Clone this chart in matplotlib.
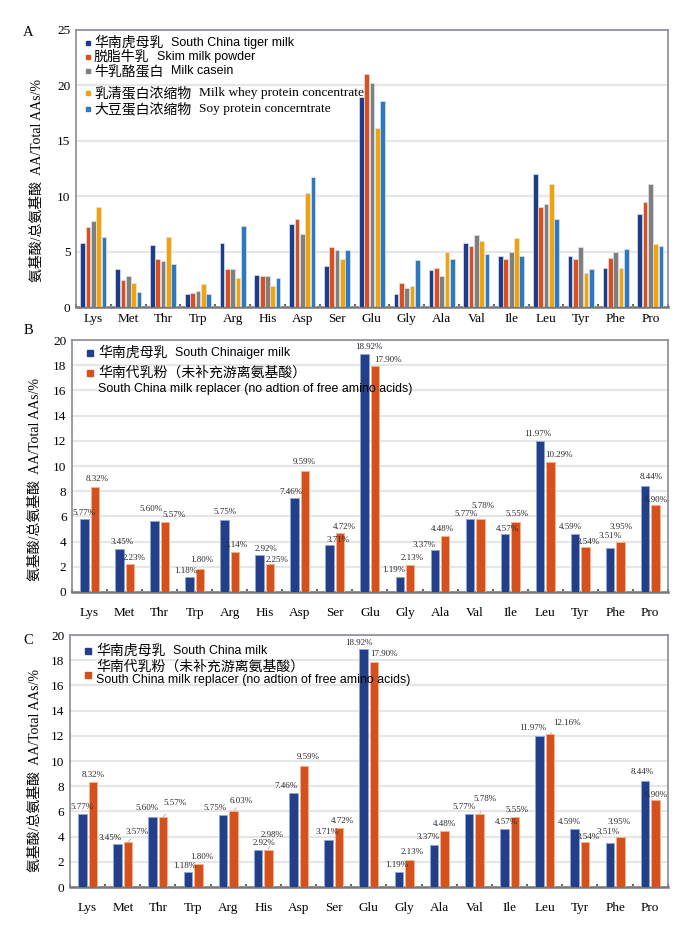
import matplotlib
matplotlib.use("Agg")
import matplotlib.pyplot as plt
import numpy as np

plt.rcParams['font.family'] = ['Liberation Serif', 'Noto Sans CJK SC', 'DejaVu Sans']

amino = ['Lys', 'Met', 'Thr', 'Trp', 'Arg', 'His', 'Asp', 'Ser', 'Glu', 'Gly',
         'Ala', 'Val', 'Ile', 'Leu', 'Tyr', 'Phe', 'Pro']

# Panel A
a_tiger = [5.77, 3.45, 5.60, 1.18, 5.75, 2.92, 7.46, 3.71, 18.92, 1.19, 3.37, 5.77, 4.57, 11.97, 4.59, 3.51, 8.44]
a_skim = [7.22, 2.45, 4.30, 1.28, 3.48, 2.80, 7.95, 5.38, 21.0, 2.21, 3.53, 5.47, 4.32, 9.0, 4.38, 4.47, 9.49]
a_casein = [7.73, 2.80, 4.20, 1.43, 3.48, 2.82, 6.62, 5.11, 20.24, 1.75, 2.84, 6.47, 4.98, 9.27, 5.44, 4.98, 11.06]
a_whey = [9.04, 2.17, 6.34, 2.08, 2.65, 1.92, 10.30, 4.32, 16.17, 1.87, 4.98, 5.98, 6.19, 11.15, 3.05, 3.56, 5.65]
a_soy = [6.32, 1.32, 3.87, 1.20, 7.32, 2.62, 11.75, 5.14, 18.58, 4.23, 4.35, 4.80, 4.59, 7.98, 3.47, 5.23, 5.53]
a_names_cn = ['华南虎母乳', '脱脂牛乳', '牛乳酪蛋白', '乳清蛋白浓缩物', '大豆蛋白浓缩物']
a_names_en = ['South China tiger milk', 'Skim milk powder', 'Milk casein',
              'Milk whey protein concentrate', 'Soy protein concerntrate']
a_colors = ['#1F3C88', '#D9501E', '#7F7F7F', '#F0A30A', '#2E78C0']

# Panels B and C
tiger = [5.77, 3.45, 5.60, 1.18, 5.75, 2.92, 7.46, 3.71, 18.92, 1.19, 3.37, 5.77, 4.57, 11.97, 4.59, 3.51, 8.44]
b_replacer = [8.32, 2.23, 5.57, 1.80, 3.14, 2.25, 9.59, 4.72, 17.90, 2.13, 4.48, 5.78, 5.55, 10.29, 3.54, 3.95, 6.90]
c_replacer = [8.32, 3.57, 5.57, 1.80, 6.03, 2.98, 9.59, 4.72, 17.90, 2.13, 4.48, 5.78, 5.55, 12.16, 3.54, 3.95, 6.90]
b_tiger_cn, b_tiger_en = '华南虎母乳', 'South Chinaiger milk'
c_tiger_cn, c_tiger_en = '华南虎母乳', 'South China milk'
rep_cn = '华南代乳粉（未补充游离氨基酸）'
rep_en = 'South China milk replacer (no adtion of free amino acids)'
bc_colors = ['#233F8A', '#D5501C']
bc_edges = ['#8FA8D8', '#F2B48A']

# label offsets (pixels: dx, dy above bar top) -- placement only
b_tig_off = [(0, 6), (3, 7), (-3, 12), (-4, 6), (0, 8), (6, 6), (-4, 6), (8, 5), (4, 7),
             (-6, 7), (-11, 5), (-4, 5), (3, 5), (-2, 7), (-5, 7), (0, 12), (6, 9)]
b_rep_off = [(2, 8), (4, 6), (9, 7), (2, 9), (1, 7), (7, 4), (-1, 9), (4, 6), (13, 6),
             (2, 7), (-3, 7), (3, 13), (2, 8), (8, 7), (3, 5), (1, 15), (1, 5)]
c_tig_off = [(0, 7), (-7, 6), (-6, 9), (-3, 6), (-8, 7), (6, 7), (-7, 7), (-1, 8), (-5, 6),
             (-2, 7), (-6, 8), (-5, 7), (2, 7), (-7, 8), (-5, 7), (-2, 11), (-3, 9)]
c_rep_off = [(0, 7), (9, 10), (12, 14), (3, 7), (8, 10), (3, 15), (4, 9), (3, 7), (10, 8),
             (3, 8), (0, 7), (5, 15), (2, 7), (17, 11), (3, 5), (-1, 15), (1, 5)]

ylabel = '氨基酸/总氨基酸  AA/Total AAs/%'
sans = ['Liberation Sans', 'Noto Sans CJK SC']
serif = ['Liberation Serif', 'Noto Sans CJK SC']
PX = 0.72  # points per pixel at dpi 100

fig = plt.figure(figsize=(7, 9.25), dpi=100)

def style_axes(ax, ymax, step, pad):
    ax.set_xlim(-0.5, len(amino) - 0.5)
    ax.set_ylim(0, ymax)
    ax.set_yticks(np.arange(0, ymax + 0.01, step))
    ax.yaxis.grid(True, color='#E6E6E6', linewidth=1.5)
    ax.set_axisbelow(True)
    ax.set_xticks(np.arange(len(amino)))
    ax.set_xticklabels(amino)
    ax.tick_params(axis='x', length=0, pad=pad, labelsize=9.5)
    ax.tick_params(axis='y', length=0, pad=4, labelsize=9.5)
    ax.set_xticks(np.arange(len(amino) + 1) - 0.5, minor=True)
    ax.tick_params(axis='x', which='minor', direction='in', length=2, width=1.5, color='#666666')
    for s in ['top', 'right', 'left']:
        ax.spines[s].set_color('#8A8A96')
        ax.spines[s].set_linewidth(1.2)
    ax.spines['bottom'].set_color('#777777')
    ax.spines['bottom'].set_linewidth(1.8)

def legend_entry(ax, xm, xt, y, ym, color, cn, en, en_family, en_size, msize, gap=5.5):
    ax.plot([xm], [ym], marker='s', markersize=msize, color=color, linestyle='none',
            transform=ax.transAxes, clip_on=False, zorder=5)
    t = ax.text(xt, y, cn, transform=ax.transAxes, va='center', ha='left',
                fontsize=10, family=['Noto Sans CJK SC'], zorder=5)
    if en:
        ax.annotate(en, xy=(1, 0.5), xycoords=t, xytext=(gap, 0), textcoords='offset points',
                    va='center', ha='left', fontsize=en_size, family=en_family, zorder=5)
    return t

x = np.arange(len(amino))

# ---------- Panel A ----------
axA = fig.add_axes([0.1086, 0.668, 0.8454, 0.2996])
seriesA = [a_tiger, a_skim, a_casein, a_whey, a_soy]
pitch = 0.153
for i, (vals, col) in enumerate(zip(seriesA, a_colors)):
    axA.bar(x + (i - 2) * pitch, vals, width=0.135, color=col,
            edgecolor='#DDE6F0', linewidth=0.5, zorder=3)
style_axes(axA, 25, 5, 4)
a_rows = [0.953, 0.9025, 0.852, 0.773, 0.715]
for i in range(5):
    fam = sans if i < 3 else serif
    size = 9 if i < 3 else 9.6
    legend_entry(axA, 0.0203, 0.0304, a_rows[i], a_rows[i], a_colors[i],
                 a_names_cn[i], a_names_en[i], fam, size, 3.0)
fig.text(0.054, 0.805, ylabel, rotation=90, ha='center', va='center', fontsize=10)
fig.text(0.04, 0.965, 'A', fontsize=10.5, ha='center', va='center')

# ---------- Panels B and C ----------
def two_series(rect, reps, tig_off, rep_off, tig_cn, tig_en, rows, rep_marker_y,
               letter, ly, lety, leaders):
    ax = fig.add_axes(rect)
    off = 0.15
    ax.bar(x - off, tiger, width=0.24, color=bc_colors[0], edgecolor=bc_edges[0],
           linewidth=0.7, zorder=3)
    ax.bar(x + off, reps, width=0.24, color=bc_colors[1], edgecolor=bc_edges[1],
           linewidth=0.7, zorder=3)
    for xi, v, (dx, dy) in zip(x, tiger, tig_off):
        ax.annotate(f'{v:.2f}%', (xi - off, v), xytext=(dx * PX, dy * PX),
                    textcoords='offset points', ha='center', va='center',
                    fontsize=6.5, color='#2A2A2A', zorder=4)
    for k, (xi, v, (dx, dy)) in enumerate(zip(x, reps, rep_off)):
        kw = {}
        if leaders and k in leaders:
            kw['arrowprops'] = dict(arrowstyle='-', color='#B8B8B8', lw=0.7,
                                    shrinkA=4, shrinkB=0)
        ax.annotate(f'{v:.2f}%', (xi + off, v), xytext=(dx * PX, dy * PX),
                    textcoords='offset points', ha='center', va='center',
                    fontsize=6.5, color='#2A2A2A', zorder=4, **kw)
    style_axes(ax, 20, 2, 11)
    xm, xt = 0.030, 0.0436
    legend_entry(ax, xm, xt, rows[0], rows[0], bc_colors[0], tig_cn, tig_en, sans, 8.9, 3.8)
    legend_entry(ax, xm, xt, rows[1], rep_marker_y, bc_colors[1], rep_cn, None, sans, 8.9, 3.8)
    ax.text(xt, rows[2], rep_en, transform=ax.transAxes, va='center', ha='left',
            fontsize=8.9, family=sans, zorder=5)
    fig.text(0.05, ly, ylabel, rotation=90, ha='center', va='center', fontsize=10)
    fig.text(0.04, lety, letter, fontsize=10.5, ha='center', va='center')
    return ax

two_series([0.103, 0.36, 0.851, 0.2724], b_replacer, b_tig_off, b_rep_off,
           b_tiger_cn, b_tiger_en, [0.948, 0.869, 0.806], 0.869, 'B', 0.482, 0.643, None)
two_series([0.100, 0.041, 0.854, 0.2724], c_replacer, c_tig_off, c_rep_off,
           c_tiger_cn, c_tiger_en, [0.937, 0.873, 0.821], 0.841, 'C', 0.167, 0.308,
           [1, 2, 4, 5, 11, 13])

fig.savefig('out.png', dpi=100)
